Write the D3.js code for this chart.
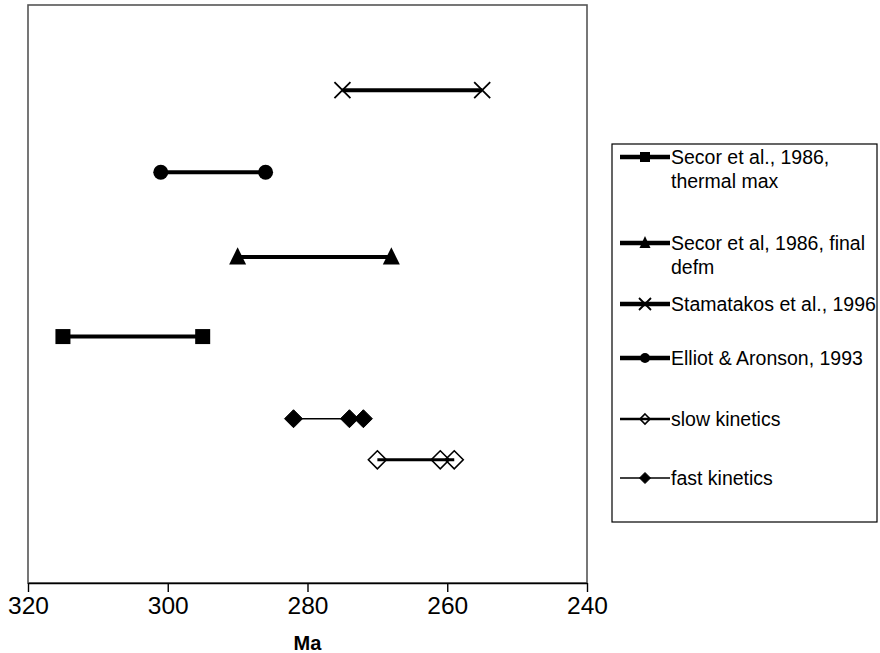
<!DOCTYPE html>
<html>
<head>
<meta charset="utf-8">
<script src="https://cdn.jsdelivr.net/npm/d3@7"></script>
<style>
  body { margin: 0; background: #fff; }
  svg { font-family: Arial, "Liberation Sans", sans-serif; }
</style>
</head>
<body>
<svg id="chart" width="880" height="653"></svg>
<script>
// series: [start Ma, end Ma] ranges plus extra points, row position on the hidden y axis
const seriesNames = ["Secor et al., 1986, thermal max", "Secor et al, 1986, final defm",
  "Stamatakos et al., 1996", "Elliot & Aronson, 1993", "slow kinetics", "fast kinetics"];
const seriesRows = [3, 3.97, 6, 5, 1.5, 2];
const seriesAges = [
  [315, 295],
  [290, 268],
  [275, 255],
  [301, 286],
  [270, 261, 259],
  [282, 274, 272]
];
const seriesSymbols = ["square", "triangle", "cross", "circle", "diamondOpen", "diamond"];
const xTicks = [320, 300, 280, 260, 240];

const svg = d3.select("#chart");

const x = d3.scaleLinear().domain([320, 240]).range([28, 587]);
const y = d3.scaleLinear().domain([0, 7]).range([583, 8]);

// line widths per series
const lineW = [4, 4, 4, 4, 3, 1.5];
const legLineW = [4.5, 4.5, 4.5, 4.5, 2.5, 1.5];

function drawMarker(g, type, cx, cy, s) {
  if (type == "square") {
    g.append("rect").attr("x", cx - s / 2).attr("y", cy - s / 2)
      .attr("width", s).attr("height", s).attr("fill", "#000");
  } else if (type == "triangle") {
    const h = s * 0.9;
    g.append("path")
      .attr("d", `M${cx},${cy - h / 2 - 2} L${cx + s / 2},${cy + h / 2} L${cx - s / 2},${cy + h / 2}Z`)
      .attr("fill", "#000");
  } else if (type == "circle") {
    g.append("circle").attr("cx", cx).attr("cy", cy).attr("r", s / 2).attr("fill", "#000");
  } else if (type == "cross") {
    const r = s / 2;
    g.append("path")
      .attr("d", `M${cx - r},${cy - r}L${cx + r},${cy + r}M${cx - r},${cy + r}L${cx + r},${cy - r}`)
      .attr("stroke", "#000").attr("stroke-width", 1.8).attr("fill", "none");
  } else if (type == "diamond" || type == "diamondOpen") {
    const r = s / 2;
    g.append("path")
      .attr("d", `M${cx},${cy - r}L${cx + r},${cy}L${cx},${cy + r}L${cx - r},${cy}Z`)
      .attr("fill", type == "diamond" ? "#000" : "none")
      .attr("stroke", "#000").attr("stroke-width", type == "diamond" ? 1 : 1.6);
  }
}

// plot frame
svg.append("rect").attr("x", 28).attr("y", 5).attr("width", 559).attr("height", 578)
  .attr("fill", "none").attr("stroke", "#555").attr("stroke-width", 1.6);

// x axis
const axis = svg.append("g").attr("transform", "translate(0,583)")
  .call(d3.axisBottom(x).tickValues(xTicks).tickSize(9).tickSizeOuter(0).tickPadding(5));
axis.select(".domain").attr("stroke", "#000").attr("stroke-width", 1.6);
axis.selectAll(".tick line").attr("stroke", "#000").attr("stroke-width", 1.4);
axis.selectAll(".tick text").attr("font-size", 24.5).attr("fill", "#000")
  .attr("font-family", "Arial, 'Liberation Sans', sans-serif");

svg.append("text").attr("x", x(280)).attr("y", 650).attr("text-anchor", "middle")
  .attr("font-size", 20).attr("font-weight", "bold").text("Ma");

// markers sizes in plot
const markSize = { square: 15, triangle: 17, circle: 15, cross: 16, diamond: 18, diamondOpen: 18 };

seriesNames.forEach((name, i) => {
  const g = svg.append("g");
  const ages = seriesAges[i];
  const cy = y(seriesRows[i]);
  g.append("line")
    .attr("x1", x(d3.max(ages))).attr("x2", x(d3.min(ages)))
    .attr("y1", cy).attr("y2", cy)
    .attr("stroke", "#000").attr("stroke-width", lineW[i]);
  ages.forEach(a => drawMarker(g, seriesSymbols[i], x(a), cy, markSize[seriesSymbols[i]]));
});

// legend
const leg = svg.append("g");
leg.append("rect").attr("x", 612).attr("y", 144).attr("width", 265).attr("height", 378)
  .attr("fill", "#fff").attr("stroke", "#000").attr("stroke-width", 1.2);

const legLines = [
  ["Secor et al., 1986,", "thermal max"],
  ["Secor et al, 1986, final", "defm"],
  ["Stamatakos et al., 1996"],
  ["Elliot & Aronson, 1993"],
  ["slow kinetics"],
  ["fast kinetics"]
];
const legY = [157, 243, 304, 358, 419, 478];
const legMark = { square: 10, triangle: 11, circle: 10, cross: 12, diamond: 11, diamondOpen: 10 };

legLines.forEach((lines, i) => {
  const ly = legY[i];
  leg.append("line").attr("x1", 620).attr("x2", 670).attr("y1", ly).attr("y2", ly)
    .attr("stroke", "#000").attr("stroke-width", legLineW[i]);
  drawMarker(leg, seriesSymbols[i], 645, ly, legMark[seriesSymbols[i]]);
  const t = leg.append("text").attr("x", 671).attr("y", ly + 7).attr("font-size", 19.5);
  lines.forEach((l, k) => t.append("tspan").attr("x", 671).attr("dy", k == 0 ? 0 : 24).text(l));
});
</script>
</body>
</html>
